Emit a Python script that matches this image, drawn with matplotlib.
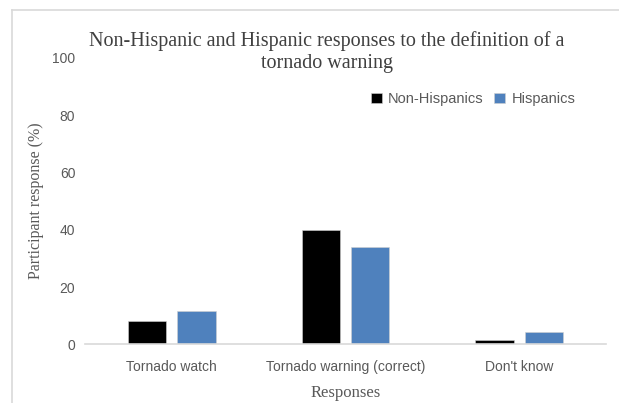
import numpy as np
import matplotlib
matplotlib.use("Agg")
import matplotlib.pyplot as plt
from matplotlib.lines import Line2D

# data
categories = ["Tornado watch", "Tornado warning (correct)", "Don't know"]
non_hispanics = [8.0, 40.0, 1.4]
hispanics = [11.5, 34.0, 4.4]
series_names = ["Non-Hispanics", "Hispanics"]
yticks = [0, 20, 40, 60, 80, 100]

W, H = 619, 403
fig = plt.figure(figsize=(W / 100, H / 100), dpi=100)
ax = fig.add_axes([85 / W, 1 - 344.3 / H, (606 - 85) / W, (344.3 - 58) / H])

x = np.arange(len(categories))
bw = 0.22
off = 0.142
ax.bar(x - off, non_hispanics, bw, color="#000000", edgecolor="#d0d0d0", linewidth=0.4,
       label=series_names[0])
ax.bar(x + off, hispanics, bw, color="#4f81bd", edgecolor="#d0d0d0", linewidth=0.4,
       label=series_names[1])

ax.set_xlim(-0.5, len(categories) - 0.5)
ax.set_ylim(0, 100)
ax.set_yticks(yticks)
ax.set_xticks(x)
ax.set_xticklabels(categories, fontfamily="Liberation Sans", fontsize=10, color="#595959")
ax.set_yticklabels([str(v) for v in yticks], fontfamily="Liberation Sans", fontsize=10,
                   color="#595959")
ax.tick_params(axis="both", length=0)
ax.tick_params(axis="x", pad=11)
ax.tick_params(axis="y", pad=7)

for s in ["top", "right", "left"]:
    ax.spines[s].set_visible(False)
ax.spines["bottom"].set_color("#d9d9d9")
ax.spines["bottom"].set_linewidth(1.2)

ax.set_ylabel("Participant response (%)", fontfamily="Liberation Serif", fontsize=11.5,
              color="#595959", labelpad=6)
ax.set_xlabel("Responses", fontfamily="Liberation Serif", fontsize=12, color="#595959",
              labelpad=8)

fig.text(327 / W, 1 - 52 / H, "Non-Hispanic and Hispanic responses to the definition of a\ntornado warning",
         ha="center", va="center", fontfamily="Liberation Serif", fontsize=14.5,
         color="#404040", linespacing=1.15)

leg = ax.legend(loc="center", bbox_to_anchor=((473 - 85) / (606 - 85), (344.3 - 99) / (344.3 - 58)),
                ncol=2, frameon=False, handlelength=0.75, handleheight=0.75,
                handletextpad=0.45, columnspacing=0.7,
                prop={"family": "Liberation Sans", "size": 10.5})
for t in leg.get_texts():
    t.set_color("#595959")

# light chart border: only top and left edges are inside the picture
bx, by = 12 / W, 1 - 9.5 / H
fig.add_artist(Line2D([bx, 1.05], [by, by], transform=fig.transFigure, color="#d9d9d9", linewidth=1.2))
fig.add_artist(Line2D([bx, bx], [-0.05, by], transform=fig.transFigure, color="#d9d9d9", linewidth=1.2))

fig.savefig("out.png", dpi=100)
